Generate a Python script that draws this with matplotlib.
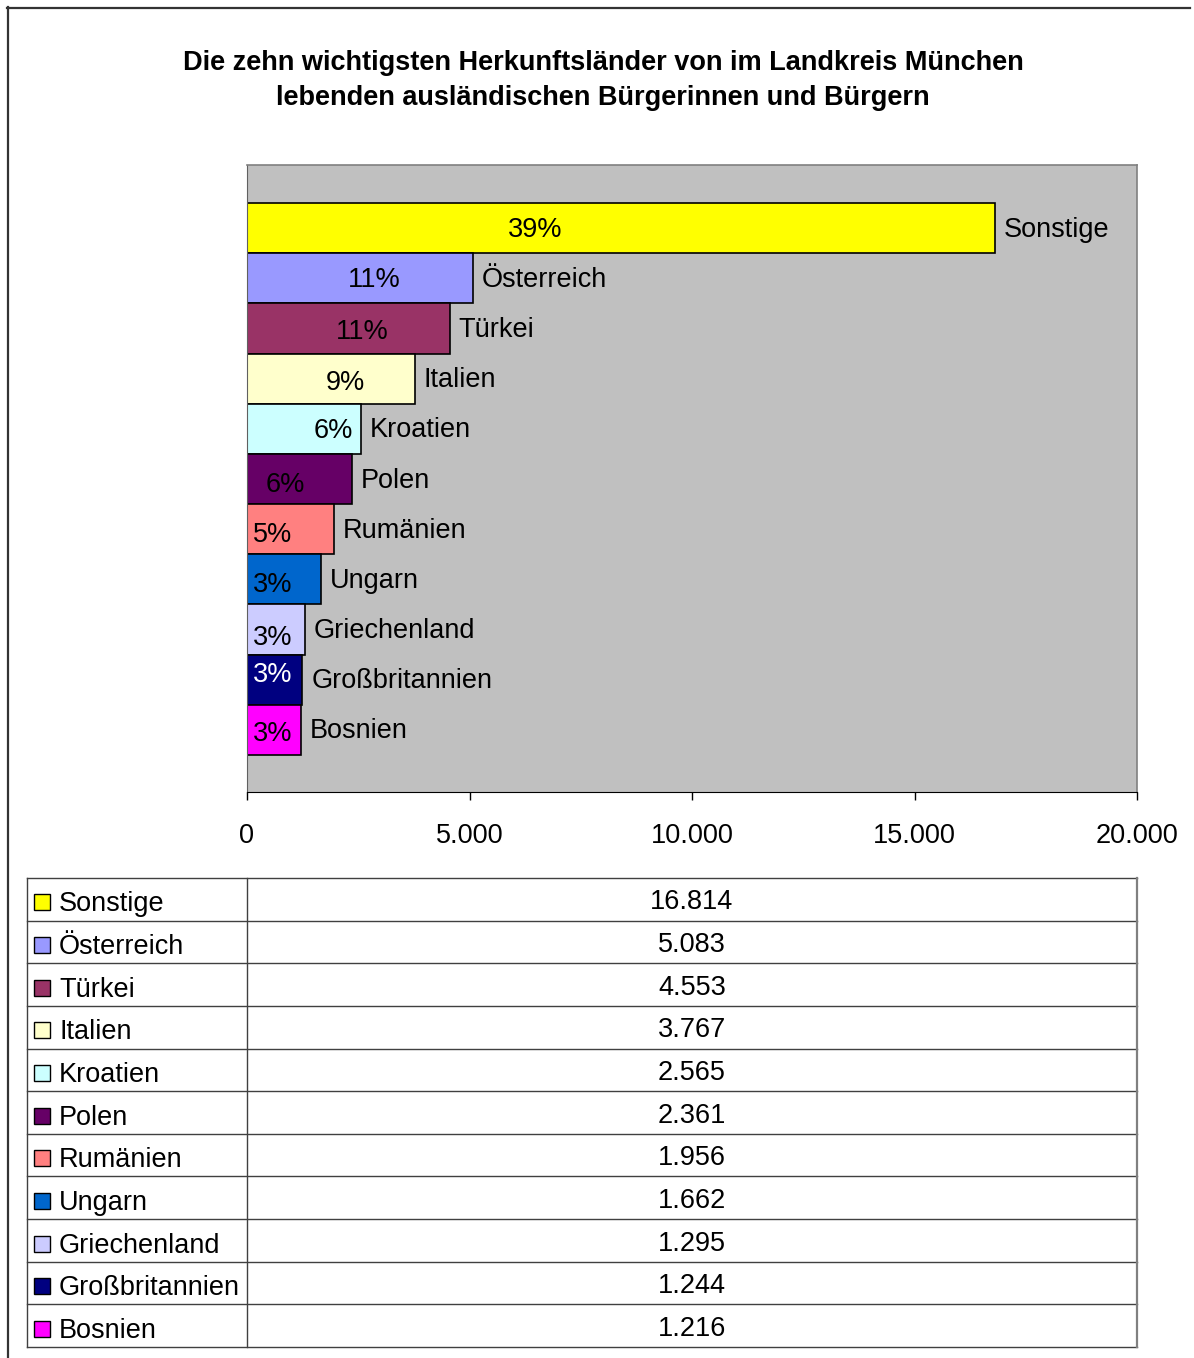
import matplotlib.pyplot as plt
from matplotlib.lines import Line2D
from matplotlib.patches import Rectangle
from matplotlib.ticker import FuncFormatter

plt.rcParams['font.family'] = ['Liberation Sans', 'DejaVu Sans']

countries = ['Sonstige', 'Österreich', 'Türkei', 'Italien', 'Kroatien', 'Polen',
             'Rumänien', 'Ungarn', 'Griechenland', 'Großbritannien', 'Bosnien']
values = [16814, 5083, 4553, 3767, 2565, 2361, 1956, 1662, 1295, 1244, 1216]
pct_labels = ['39%', '11%', '11%', '9%', '6%', '6%', '5%', '3%', '3%', '3%', '3%']
colors = ['#FFFF00', '#9999FF', '#993366', '#FFFFCC', '#CCFFFF', '#660066',
          '#FF8080', '#0066CC', '#CCCCFF', '#000080', '#FF00FF']
pct_colors = ['black'] * 9 + ['white', 'black']
# where the percentage labels sit (data x, and a small vertical nudge)
pct_x = [6470, 2850, 2580, 2200, 1930, 850, 580, 580, 580, 580, 580]
pct_dy = [-0.03, -0.03, -0.07, -0.09, -0.05, -0.11, -0.11, -0.11, -0.17, 0.09, -0.09]

FS = 19.5
W, H = 1194, 1358
fig = plt.figure(figsize=(W / 100, H / 100), dpi=100)


def box(x0, y0, x1, y1):
    return [x0 / W, 1 - y1 / H, (x1 - x0) / W, (y1 - y0) / H]


# outer frame (only top and left visible)
fig.add_artist(Line2D([7 / W, 1190 / W], [1 - 7.5 / H, 1 - 7.5 / H], color='#333333', lw=1.6))
fig.add_artist(Line2D([7.5 / W, 7.5 / W], [0, 1 - 7 / H], color='#333333', lw=1.6))

fig.text(603 / W, 1 - 63 / H, 'Die zehn wichtigsten Herkunftsländer von im Landkreis München',
         ha='center', va='center', fontsize=FS, fontweight='bold')
fig.text(603 / W, 1 - 98 / H, 'lebenden ausländischen Bürgerinnen und Bürgern',
         ha='center', va='center', fontsize=FS, fontweight='bold')

ax = fig.add_axes(box(247, 165, 1137, 792))
ax.set_facecolor('#C0C0C0')
n = len(values)
ypos = [n - 1 - i for i in range(n)]
ax.barh(ypos, values, height=1.0, color=colors, edgecolor='black', linewidth=1.2)
for i in range(n):
    ax.text(pct_x[i], ypos[i] + pct_dy[i], pct_labels[i], ha='center', va='center',
            fontsize=FS, color=pct_colors[i])
    ax.text(values[i] + 200, ypos[i] - 0.03, countries[i], ha='left', va='center', fontsize=FS)

ax.set_xlim(0, 20000)
ax.set_ylim(-1.24, n - 0.5 + 0.76)
ax.set_xticks([0, 5000, 10000, 15000, 20000])
ax.xaxis.set_major_formatter(FuncFormatter(lambda v, p: f'{int(v):,}'.replace(',', '.')))
ax.set_yticks([])
ax.tick_params(axis='x', direction='out', length=6, width=1, pad=16, labelsize=FS)
for s in ['top', 'right']:
    ax.spines[s].set_color('#808080')
    ax.spines[s].set_linewidth(1.2)
ax.spines['left'].set_color('#606060')
ax.spines['bottom'].set_color('black')

# data table
tx0, ty0, tx1, ty1 = 27, 878, 1137, 1347
tab = fig.add_axes(box(tx0, ty0, tx1, ty1))
tab.set_xlim(tx0, tx1)
tab.set_ylim(ty1, ty0)
tab.axis('off')
rh = (ty1 - ty0) / n
for i in range(n + 1):
    tab.plot([tx0, tx1], [ty0 + i * rh] * 2, color='#404040', lw=1.0, clip_on=False)
tab.plot([tx0, tx0], [ty0, ty1], color='#404040', lw=1.0, clip_on=False)
tab.plot([247, 247], [ty0, ty1], color='#404040', lw=1.0, clip_on=False)
tab.plot([tx1, tx1], [ty0, ty1], color='#808080', lw=1.6, clip_on=False)
for i in range(n):
    yc = ty0 + (i + 0.55) * rh
    tab.add_patch(Rectangle((34, yc - 7), 16, 16, facecolor=colors[i], edgecolor='black', lw=1.0))
    tab.text(59, yc + 3, countries[i], ha='left', va='center', fontsize=FS)
    tab.text(692, yc + 1, f'{values[i]:,}'.replace(',', '.'), ha='center', va='center', fontsize=FS)

fig.savefig('out.png', dpi=100)
